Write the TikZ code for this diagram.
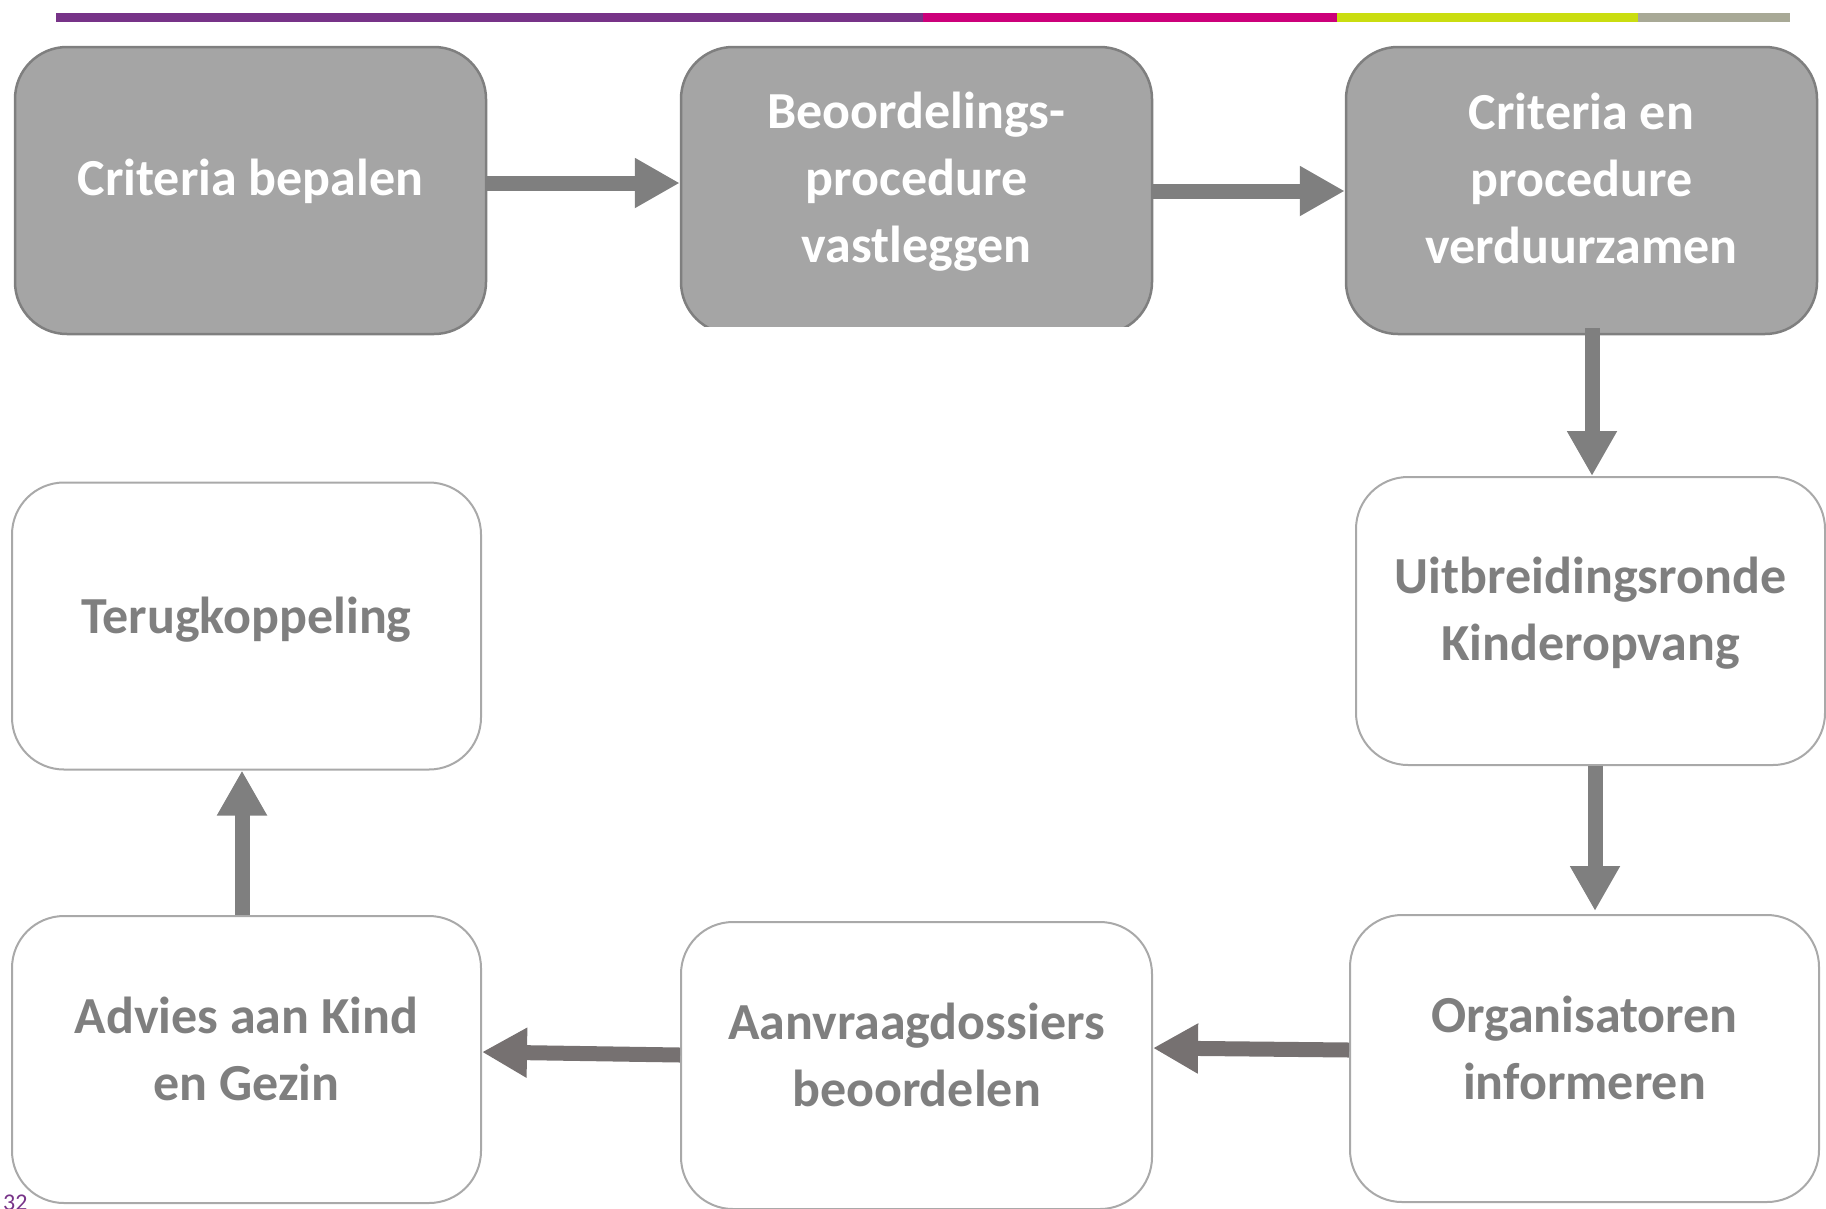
\documentclass[tikz,border=0pt]{standalone}
\usepackage{fontspec}
\setmainfont{Carlito}
\usetikzlibrary{arrows.meta}
\definecolor{boxgray}{HTML}{A5A5A5}
\definecolor{edgegray}{HTML}{7F7F7F}
\definecolor{lightedge}{HTML}{A9A9A9}
\definecolor{arrgray}{HTML}{7F7F7F}
\definecolor{arrdark}{HTML}{767171}
\definecolor{txtgray}{HTML}{7F7F7F}
\definecolor{barpurple}{HTML}{773388}
\definecolor{barmagenta}{HTML}{CC007A}
\definecolor{barlime}{HTML}{CADD10}
\definecolor{barsage}{HTML}{A8A996}
\tikzset{
  boxbase/.style={rectangle, rounded corners=52pt, minimum width=471pt, minimum height=287pt, inner sep=0pt},
  darkbox/.style={boxbase, fill=boxgray, draw=edgegray, line width=2.5pt},
  lightbox/.style={boxbase, fill=white, draw=lightedge, line width=2pt},
  lbl/.style={align=center, font=\fontsize{52}{67}\selectfont\bfseries, inner sep=0pt},
  lbldark/.style={lbl, text=white},
  lbllight/.style={lbl, text=txtgray},
  arr/.style={draw=#1, line width=15pt, -{Triangle[width=47pt,length=45pt]}}
}
\begin{document}
\begin{tikzpicture}[x=1pt,y=-1pt]
\useasboundingbox (0,0) rectangle (1826,1208);
% top bar
\fill[barpurple] (56,13) rectangle (923,22);
\fill[barmagenta] (923,13) rectangle (1337,22);
\fill[barlime] (1337,13) rectangle (1638,22);
\fill[barsage] (1638,13) rectangle (1790,22);
% page number
\node[anchor=north west, inner sep=0pt, text=barpurple, font=\fontsize{24}{26}\selectfont] (pg) at (3,1195) {32};
% boxes
\node[darkbox] (b1) at (250.5,190.5) {};
\begin{scope}
\clip (600,0) rectangle (1200,326);
\node[darkbox] (b2) at (916.5,190.5) {};
\end{scope}
\node[darkbox] (b3) at (1581.5,190.5) {};
\node[lightbox, minimum width=469pt, minimum height=288pt] (b4) at (1590.5,621) {};
\node[lightbox, minimum width=469pt] (b5) at (246.5,626) {};
\node[lightbox, minimum width=469pt] (b6) at (246.5,1059.5) {};
\node[lightbox] (b7) at (916.5,1065.5) {};
\node[lightbox, minimum width=469pt] (b8) at (1584.5,1058.5) {};
% labels
\node[lbldark] (t1) at ([yshift=9.5pt]b1.center) {Criteria bepalen};
\node[lbldark] (t2) at ([yshift=8.5pt]b2.center) {Beoordelings-\\procedure\\vastleggen};
\node[lbldark] (t3) at ([yshift=12pt]b3.center) {Criteria en\\procedure\\verduurzamen};
\node[lbllight] (t4) at ([yshift=7.5pt]b4.center) {Uitbreidingsronde\\Kinderopvang};
\node[lbllight] (t5) at ([yshift=6pt]b5.center) {Terugkoppeling};
\node[lbllight] (t6) at ([yshift=11pt]b6.center) {Advies aan Kind\\en Gezin};
\node[lbllight] (t7) at ([yshift=11pt]b7.center) {Aanvraagdossiers\\beoordelen};
\node[lbllight] (t8) at ([yshift=11pt]b8.center) {Organisatoren\\informeren};
% arrows
\draw[arr=arrgray] (b1.east |- 0,183) -- (b2.west |- 0,183);
\draw[arr=arrgray] (b2.east |- 0,191) -- (b3.west |- 0,191);
\draw[arr=arrgray] (1592,328) -- (b4.north -| 1592,0);
\draw[arr=arrgray] (b4.south -| 1595,0) -- (1595,911);
\draw[arr=arrdark] (b8.west |- 0,1050) -- (b7.east |- 0,1048);
\draw[arr=arrdark] (b7.west |- 0,1055) -- (b6.east |- 0,1052);
\draw[arr=arrgray] (b6.north -| 242,0) -- (b5.south -| 242,0);
\end{tikzpicture}
\end{document}
